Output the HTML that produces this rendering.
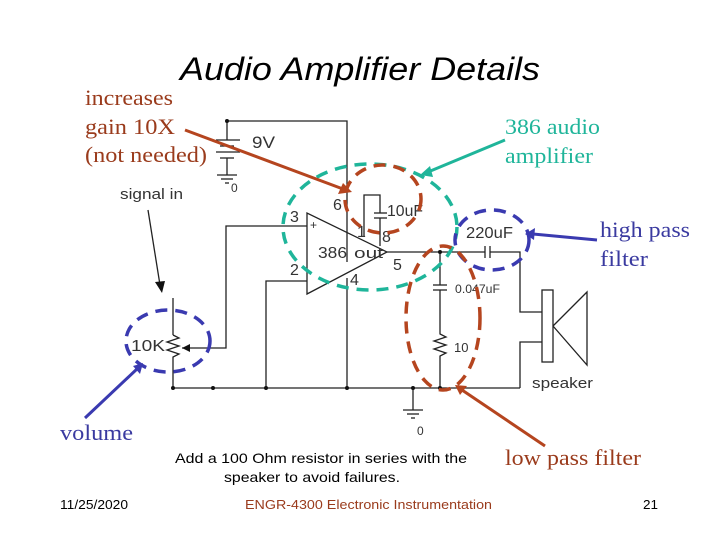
<!DOCTYPE html>
<html><head><style>
body{margin:0;width:720px;height:540px;background:#fff;overflow:hidden;position:relative}
svg{position:absolute;left:0;top:0}
</style></head><body>
<svg width="720" height="540" viewBox="0 0 720 540" xmlns="http://www.w3.org/2000/svg">
<g font-family="Liberation Sans, sans-serif">
<text x="180" y="80" font-size="32" font-style="italic" textLength="360" lengthAdjust="spacingAndGlyphs">Audio Amplifier Details</text>
</g>
<g font-family="Liberation Serif, serif" font-size="22" lengthAdjust="spacingAndGlyphs">
<text x="85" y="105" fill="#9a3b1c" textLength="88" lengthAdjust="spacingAndGlyphs">increases</text>
<text x="85" y="134" fill="#9a3b1c" textLength="90" lengthAdjust="spacingAndGlyphs">gain 10X</text>
<text x="85" y="162" fill="#9a3b1c" textLength="122" lengthAdjust="spacingAndGlyphs">(not needed)</text>
<text x="505" y="134" fill="#1fb59a" textLength="95" lengthAdjust="spacingAndGlyphs">386 audio</text>
<text x="505" y="163" fill="#1fb59a" textLength="88" lengthAdjust="spacingAndGlyphs">amplifier</text>
<text x="600" y="237" fill="#3a3aa0" textLength="90" lengthAdjust="spacingAndGlyphs">high pass</text>
<text x="600" y="266" fill="#3a3aa0" textLength="48" lengthAdjust="spacingAndGlyphs">filter</text>
<text x="60" y="440" fill="#3a3aa0" textLength="73" lengthAdjust="spacingAndGlyphs">volume</text>
<text x="505" y="465" fill="#9a3b1c" textLength="136" lengthAdjust="spacingAndGlyphs">low pass filter</text>
</g>
<g font-family="Liberation Sans, sans-serif" font-size="14">
<text x="175" y="463" textLength="292" lengthAdjust="spacingAndGlyphs">Add a 100 Ohm resistor in series with the</text>
<text x="224" y="482" textLength="176" lengthAdjust="spacingAndGlyphs">speaker to avoid failures.</text>
<text x="60" y="509" font-size="13" textLength="68" lengthAdjust="spacingAndGlyphs">11/25/2020</text>
<text x="245" y="509" font-size="13" fill="#9a3b1c" textLength="247" lengthAdjust="spacingAndGlyphs">ENGR-4300  Electronic Instrumentation</text>
<text x="643" y="509" font-size="13" textLength="15" lengthAdjust="spacingAndGlyphs">21</text>
</g>
<g stroke="#222" stroke-width="1.3" fill="none">
<polyline points="227,140 227,121 347,121 347,262"/>
<line x1="216" y1="140" x2="240" y2="140"/><line x1="220" y1="146" x2="234" y2="146"/>
<line x1="216" y1="152" x2="240" y2="152"/><line x1="220" y1="158" x2="234" y2="158"/>
<polyline points="227,158 227,175"/>
<line x1="217" y1="175" x2="237" y2="175"/><line x1="221" y1="179" x2="233" y2="179"/><line x1="225" y1="183" x2="229" y2="183"/>
<polygon points="307,213 307,294 387,252"/>
<polyline points="182,348 226,348 226,226 307,226"/>
<polyline points="266,388 266,281 307,281"/>
<polyline points="347,278 347,388"/>
<line x1="172" y1="388" x2="520" y2="388"/>
<polyline points="173,298 173,335"/>
<polyline points="173,335 179,338 167,342 179,346 167,350 179,354 173,357 173,388"/>
<polyline points="387,252 485,252"/>
<line x1="485" y1="246" x2="485" y2="258"/><line x1="490" y1="246" x2="490" y2="258"/>
<polyline points="490,252 520,252 520,312 542,312"/>
<polyline points="520,388 520,342 542,342"/>
<rect x="542" y="290" width="11" height="72"/>
<polyline points="553,326 587,292 587,365 553,326"/>
<polyline points="440,252 440,285"/><line x1="433" y1="285" x2="447" y2="285"/><line x1="433" y1="290" x2="447" y2="290"/>
<polyline points="440,290 440,334 446,337 434,341 446,345 434,349 446,353 440,356 440,388"/>
<polyline points="413,388 413,410"/>
<line x1="403" y1="410" x2="423" y2="410"/><line x1="407" y1="414" x2="419" y2="414"/><line x1="411" y1="418" x2="415" y2="418"/>
<polyline points="364,237 364,195 380,195 380,213"/>
<line x1="374" y1="213" x2="387" y2="213"/><line x1="374" y1="218" x2="387" y2="218"/>
<polyline points="380,218 380,246"/>
<line x1="148" y1="210" x2="160" y2="285"/>
</g>
<polygon points="155,282 165,281 162,293" fill="#111"/>
<polygon points="182,348 190,344 190,352" fill="#111"/>
<g fill="#111"><circle cx="173" cy="388" r="2"/><circle cx="213" cy="388" r="2"/><circle cx="266" cy="388" r="2"/><circle cx="347" cy="388" r="2"/><circle cx="413" cy="388" r="2"/><circle cx="440" cy="388" r="2"/><circle cx="440" cy="252" r="2"/><circle cx="227" cy="121" r="2"/></g>
<g font-family="Liberation Sans, sans-serif" font-size="16" fill="#333">
<text x="120" y="199" font-size="15" textLength="63" lengthAdjust="spacingAndGlyphs">signal in</text>
<text x="252" y="148" font-size="17" textLength="23" lengthAdjust="spacingAndGlyphs">9V</text>
<text x="231" y="192" font-size="12">0</text>
<text x="333" y="210">6</text><text x="290" y="222">3</text><text x="290" y="275">2</text>
<text x="350" y="285">4</text><text x="357" y="237">1</text><text x="382" y="242">8</text><text x="393" y="270">5</text>
<text x="318" y="258" textLength="29" lengthAdjust="spacingAndGlyphs">386</text><text x="354" y="258" font-size="15" textLength="29" lengthAdjust="spacingAndGlyphs">out</text>
<text x="310" y="229" font-size="12">+</text>
<text x="387" y="216" textLength="36" lengthAdjust="spacingAndGlyphs">10uF</text>
<text x="466" y="238" textLength="47" lengthAdjust="spacingAndGlyphs">220uF</text>
<text x="455" y="293" font-size="12" textLength="45" lengthAdjust="spacingAndGlyphs">0.047uF</text>
<text x="454" y="352" font-size="13">10</text>
<text x="131" y="351" textLength="34" lengthAdjust="spacingAndGlyphs">10K</text>
<text x="532" y="388" font-size="15" textLength="61" lengthAdjust="spacingAndGlyphs">speaker</text>
<text x="417" y="435" font-size="12">0</text>
</g>
<g fill="none" stroke-width="3.5" stroke-dasharray="12,8">
<ellipse cx="370" cy="227" rx="87" ry="63" stroke="#1fb59a"/>
<ellipse cx="383" cy="199" rx="38" ry="34" stroke="#b5451f"/>
<ellipse cx="492" cy="240" rx="37" ry="30" stroke="#3a3ab0"/>
<ellipse cx="168" cy="341" rx="42" ry="31" stroke="#3a3ab0"/>
<ellipse cx="443" cy="318" rx="37" ry="72" stroke="#b5451f"/>
</g>
<g stroke-width="3">
<line x1="185" y1="130" x2="343" y2="189" stroke="#b5451f"/>
<line x1="505" y1="140" x2="428" y2="172" stroke="#1fb59a"/>
<line x1="597" y1="240" x2="533" y2="234" stroke="#3a3ab0"/>
<line x1="85" y1="418" x2="138" y2="368" stroke="#3a3ab0"/>
<line x1="545" y1="446" x2="462" y2="390" stroke="#b5451f"/>
</g>
<polygon points="352,192 338,194 343,183" fill="#b5451f"/>
<polygon points="420,175 430,166 433,177" fill="#1fb59a"/>
<polygon points="525,234 535,228 534,240" fill="#3a3ab0"/>
<polygon points="143,363 133,366 140,374" fill="#3a3ab0"/>
<polygon points="455,385 467,386 460,395" fill="#b5451f"/>
</svg>
</body></html>
